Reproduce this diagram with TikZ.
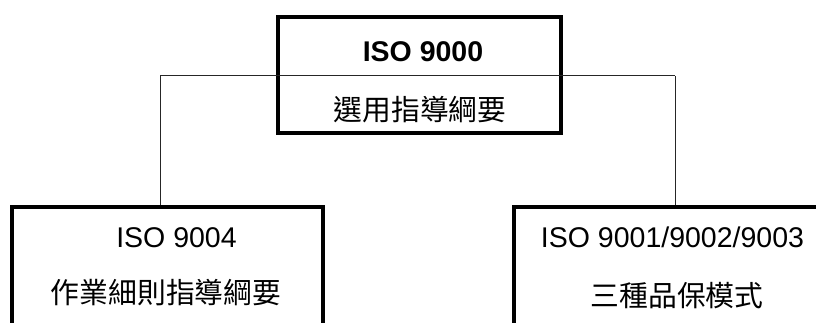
\documentclass[tikz,border=0pt]{standalone}
\usepackage{fontspec}
\setmainfont{Liberation Sans}
\newfontfamily\cjk{Noto Sans CJK TC}
\begin{document}
\begin{tikzpicture}[x=1pt,y=1pt,
  box/.style={draw=black,line width=4.3pt,rectangle,inner sep=0pt},
  conn/.style={draw=black!85,line width=1pt},
  lbl/.style={inner sep=0pt,anchor=base,font=\fontsize{28.5}{34}\selectfont},
  cjklbl/.style={inner sep=0pt,anchor=base,font=\fontsize{28.8}{34}\selectfont\cjk}]
\useasboundingbox (0,0) rectangle (816,322);
\clip (0,0) rectangle (816,322);
% boxes
\node[box,minimum width=283pt,minimum height=116pt] (top) at (419.5,247) {};
\node[box,minimum width=311pt,minimum height=160pt] (left) at (167.5,35) {};
\node[box,minimum width=322pt,minimum height=160pt] (right) at (675,35) {};
% texts
\node[lbl,font=\fontsize{28.5}{34}\selectfont\bfseries] (t1) at (423,260) {ISO 9000};
\node[cjklbl] (t2) at (420,202) {選用指導綱要};
\node[lbl] (l1) at (176.5,75) {ISO 9004};
\node[cjklbl] (l2) at (166,19) {作業細則指導綱要};
\node[lbl] (r1) at (672.5,75) {ISO 9001/9002/9003};
\node[cjklbl] (r2) at (677,16) {三種品保模式};
% connectors
\coordinate (jl) at (160,246);
\coordinate (jr) at (675,246);
\draw[conn] (jl) -- (jr);
\draw[conn] (jl) -- (jl |- left.north);
\draw[conn] (jr) -- (right.north);
\end{tikzpicture}
\end{document}
